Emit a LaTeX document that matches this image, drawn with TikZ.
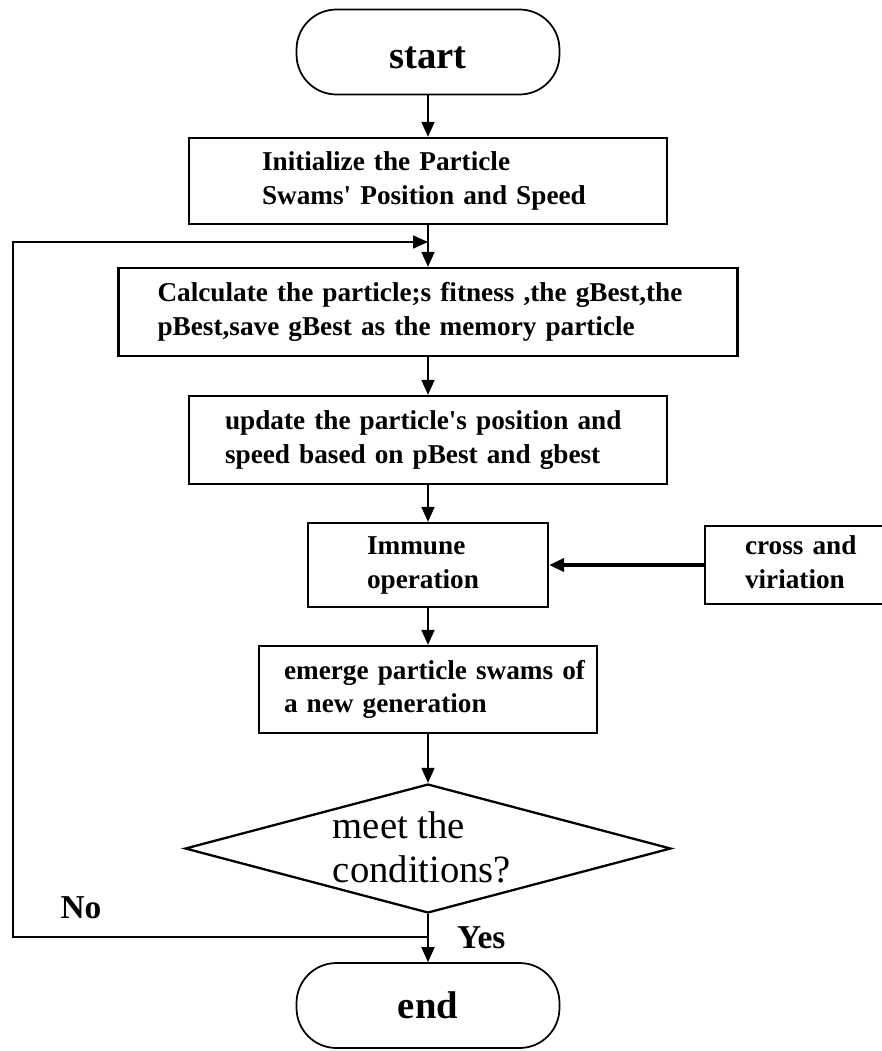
\documentclass[tikz,border=0pt]{standalone}
\usepackage{fontspec}
\setmainfont{Liberation Serif}
\usetikzlibrary{positioning}
\usetikzlibrary{arrows.meta}
\usetikzlibrary{shapes.geometric}

\tikzset{
    procbox/.style={rectangle, draw=black, line width=1.3pt, align=left, inner ysep=0pt,
        font=\bfseries\fontsize{15.5}{19}\selectfont},
    terminal/.style={rectangle, rounded corners=0.8cm, draw=black, line width=1pt,
        minimum width=5.26cm, minimum height=1.7cm, font=\bfseries\fontsize{22}{26}\selectfont},
    decision/.style={diamond, draw=black, line width=1.3pt, inner sep=0pt,
        minimum width=9.72cm, minimum height=2.58cm},
    flow/.style={-{Triangle[length=0.3cm,width=0.26cm]}, line width=1pt},
    branch/.style={font=\bfseries\fontsize{19}{22}\selectfont},
}

\begin{document}
\begin{tikzpicture}[x=0.02cm, y=-0.02cm]
    \path [use as bounding box, fill=white] (0,0) rectangle (882,1051);

    \node (start) [terminal, text depth=0.05cm, text height=0.7cm] at (428,52) {start};
    \node (init) [procbox, text width=6.64cm, inner xsep=1.46cm, minimum height=1.72cm] at (428,181) {
        \begin{tabular}{@{}l@{}}
            Initialize the Particle \\
            Swams\textquotesingle{} Position and Speed
        \end{tabular}};
    \node (fitness) [procbox, text width=10.82cm, inner xsep=0.78cm, minimum height=1.76cm] at (428,312) {
        \begin{tabular}{@{}l@{}}
            Calculate the particle;s fitness ,the gBest,the \\
            pBest,save gBest as the memory particle
        \end{tabular}};
    \node (update) [procbox, text width=8.12cm, inner xsep=0.72cm, minimum height=1.76cm] at (428,440) {
        \begin{tabular}{@{}l@{}}
            update the particle\textquotesingle{}s position and \\
            speed based on pBest and gbest
        \end{tabular}};
    \node (immune) [procbox, text width=2.44cm, inner xsep=1.18cm, minimum height=1.68cm] at (428,565) {
        \begin{tabular}{@{}l@{}}
            Immune \\
            operation
        \end{tabular}};
    \node (cross) [procbox, text width=2.3cm, inner xsep=0.8cm, minimum height=1.56cm] at (802.5,565) {
        \begin{tabular}{@{}l@{}}
            cross and \\
            viriation
        \end{tabular}};
    \node (emerge) [procbox, text width=5.76cm, inner xsep=0.5cm, minimum height=1.74cm] at (428,689.5) {
        \begin{tabular}{@{}l@{}}
            emerge particle swams of \\
            a new generation
        \end{tabular}};
    \node (cond) [decision, label={[font=\fontsize{22}{25.5}\selectfont, xshift=-0.12cm, yshift=-0.06cm]center:{
        \begin{tabular}{@{}l@{}}
            meet the \\
            conditions?
        \end{tabular}}}] at (428,848.5) {};
    \node (stop) [terminal] at (428,1005.5) {end};

    \draw [flow] (start) -- (init);
    \draw [flow] (init) -- (fitness);
    \draw [flow] (fitness) -- (update);
    \draw [flow] (update) -- (immune);
    \draw [flow, line width=2pt] (cross) -- (immune);
    \draw [flow] (immune) -- (emerge);
    \draw [flow] (emerge) -- (cond);
    \draw [flow] (cond) -- node[branch, right=0.45cm] (yeslabel) {Yes} (stop);

    % back to the fitness step
    \coordinate (loopout) at (428,937);
    \coordinate (leftrail) at (13,600);
    \coordinate (loopin) at (428,242);
    \draw [flow] (loopout) -| (leftrail) |- (loopin);
    \node (nolabel) [branch] at (81,908) {No};
\end{tikzpicture}
\end{document}
